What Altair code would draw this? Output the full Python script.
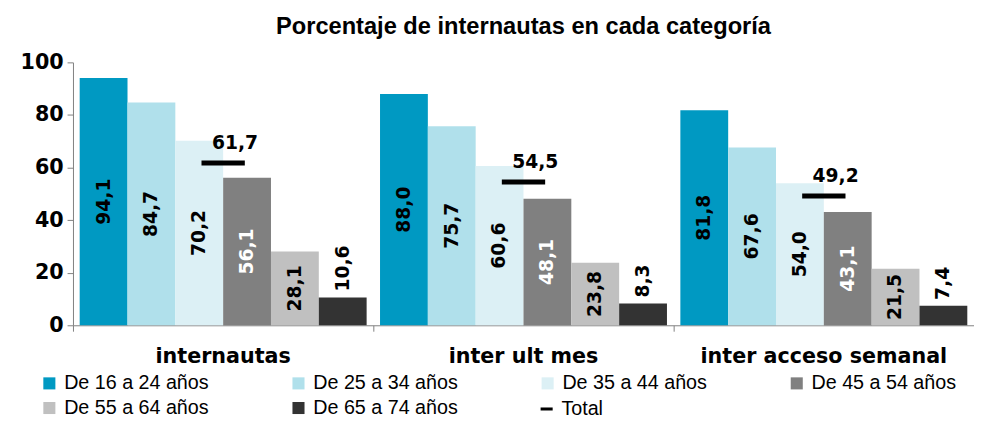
import altair as alt
import pandas as pd

categorias = ["internautas", "inter ult mes", "inter acceso semanal"]
edades = ["De 16 a 24 años", "De 25 a 34 años", "De 35 a 44 años",
          "De 45 a 54 años", "De 55 a 64 años", "De 65 a 74 años"]
v_16_24 = [94.1, 88.0, 81.8]
v_25_34 = [84.7, 75.7, 67.6]
v_35_44 = [70.2, 60.6, 54.0]
v_45_54 = [56.1, 48.1, 43.1]
v_55_64 = [28.1, 23.8, 21.5]
v_65_74 = [10.6, 8.3, 7.4]
total = [61.7, 54.5, 49.2]
colores = ["#0099C2", "#B0E0EB", "#DCF0F5", "#808080", "#C0C0C0", "#333333"]

series = [v_16_24, v_25_34, v_35_44, v_45_54, v_55_64, v_65_74]


def fmt(v):
    return f"{v:.1f}".replace(".", ",")


rows = []
for edad, vals in zip(edades, series):
    for cat, v in zip(categorias, vals):
        rows.append({"cat": cat, "edad": edad, "valor": v, "mitad": v / 2,
                     "etiqueta": fmt(v), "dentro": v >= 15})
df = pd.DataFrame(rows)
df_tot = pd.DataFrame({"cat": categorias, "total": total, "serie": "Total",
                       "etiqueta": [fmt(t) for t in total]})

xenc = alt.X("cat:N", sort=categorias, title=None,
             scale=alt.Scale(paddingInner=0, paddingOuter=0),
             axis=alt.Axis(labelAngle=0, labelFont="DejaVu Sans", labelFontWeight="bold",
                           labelFontSize=21, labelColor="black", labelPadding=15,
                           labelLimit=500, tickSize=6, bandPosition=0,
                           domainColor="#808080", tickColor="#808080"))
xoff = alt.XOffset("edad:N", sort=edades,
                   scale=alt.Scale(paddingInner=0, paddingOuter=0.14))
yscale = alt.Scale(domain=[0, 100])

leg_common = dict(title=None, orient="none", direction="horizontal",
                  symbolSize=150, symbolStrokeWidth=0, labelFont="Liberation Sans",
                  labelFontSize=20, labelColor="black", labelOffset=5, labelLimit=300,
                  symbolOpacity=1)

bars = alt.Chart(df).mark_bar().encode(
    x=xenc, xOffset=xoff,
    y=alt.Y("valor:Q", scale=yscale, title=None,
            axis=alt.Axis(values=[0, 20, 40, 60, 80, 100], grid=False,
                          labelFont="DejaVu Sans", labelFontWeight="bold",
                          labelFontSize=21, labelColor="black", tickSize=6,
                          domainColor="#808080", tickColor="#808080", labelPadding=4)),
    color=alt.Color("edad:N", scale=alt.Scale(domain=edades, range=colores),
                    legend=alt.Legend(legendX=-34, legendY=316, columns=4,
                                      symbolType="square", columnPadding=81,
                                      rowPadding=5, gridAlign="each", **leg_common)),
)

lab_in = alt.Chart(df).transform_filter("datum.dentro").mark_text(
    angle=270, align="center", baseline="middle", font="DejaVu Sans",
    fontWeight="bold", fontSize=19).encode(
    x=xenc, xOffset=xoff, y=alt.Y("mitad:Q", scale=yscale),
    text="etiqueta:N",
    color=alt.condition("datum.edad === 'De 45 a 54 años'", alt.value("white"), alt.value("black")),
)

lab_out = alt.Chart(df).transform_filter("!datum.dentro").mark_text(
    angle=270, align="left", baseline="middle", font="DejaVu Sans",
    fontWeight="bold", fontSize=19, dx=6, color="black").encode(
    x=xenc, xOffset=xoff, y=alt.Y("valor:Q", scale=yscale), text="etiqueta:N",
)

tick = alt.Chart(df_tot).mark_tick(orient="horizontal", thickness=5, size=44, opacity=1).encode(
    x=xenc, y=alt.Y("total:Q", scale=yscale),
    color=alt.Color("serie:N", scale=alt.Scale(domain=["Total"], range=["#000000"]),
                    legend=alt.Legend(legendX=471, legendY=342,
                                      symbolType="M-1,-0.25H1V0.25H-1Z", **leg_common)),
)
tick_lab = alt.Chart(df_tot).mark_text(
    font="DejaVu Sans", fontWeight="bold", fontSize=19, dx=12, dy=-20,
    color="black").encode(
    x=xenc, y=alt.Y("total:Q", scale=yscale), text="etiqueta:N",
)

chart = alt.layer(bars, lab_in, lab_out, tick, tick_lab).resolve_scale(
    color="independent"
).properties(
    width=915, height=267,
    title=alt.Title("Porcentaje de internautas en cada categoría", font="Liberation Sans",
                    fontSize=24, fontWeight="bold", color="black", offset=13, anchor="middle"),
    padding={"left": 12, "top": 4, "right": 0, "bottom": 0},
).configure_view(stroke=None)

chart.save("out.html", embed_options={"renderer": "svg", "actions": False})
